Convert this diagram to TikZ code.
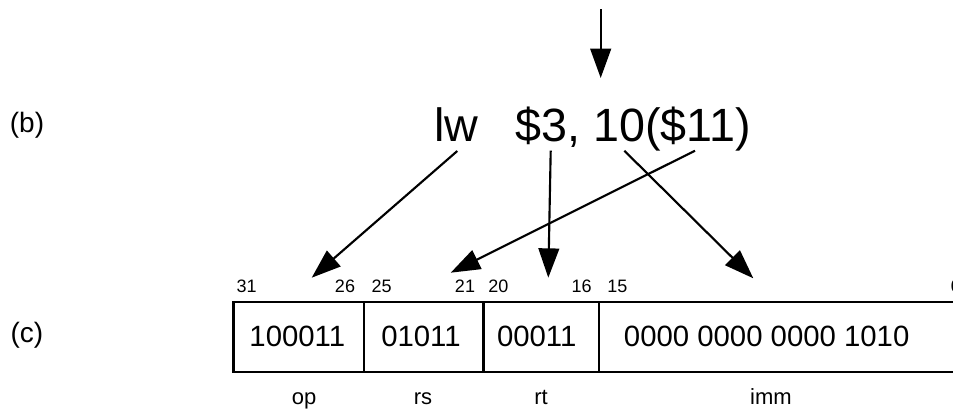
\documentclass[tikz,border=0pt]{standalone}
\usepackage{fontspec}
\setmainfont{Liberation Sans}
\usetikzlibrary{arrows.meta}
\begin{document}
\begin{tikzpicture}[x=0.75pt,y=-0.75pt,
  tag/.style={inner sep=0pt, font=\fontsize{21}{24}\selectfont},
  instr/.style={inner sep=0pt, font=\fontsize{35}{40}\selectfont},
  bitno/.style={inner sep=0pt, font=\fontsize{13.5}{16}\selectfont},
  fieldname/.style={inner sep=0pt, anchor=base, font=\fontsize{16.5}{19}\selectfont},
  bits/.style={inner sep=0pt, font=\fontsize{22}{26}\selectfont},
  cell/.style={draw, line width=1.7pt, inner sep=0pt, minimum height=52pt},
  arr/.style={line width=1.6pt, -{Triangle[length=22pt,width=15.5pt]}}]
\useasboundingbox (0,0) rectangle (953,411);
\clip (0,0) rectangle (953,411);

% row labels
\node[tag] (tb) at (27,125) {(b)};
\node[tag] (tc) at (27,335) {(c)};

% instruction
\coordinate (topin) at (600.7,9);
\coordinate (topout) at (600.7,78);
\draw[arr] (topin) -- (topout);
\node[instr, anchor=base west] (lw) at (434,141) {lw};
\node[instr, anchor=base west] (ops) at (515.5,141) {\$3, 10(\$11)};

% cells
\node[cell, minimum width=98pt]   (op)  at (298.7,337) {};
\node[cell, minimum width=89.5pt] (rs)  at (423.7,337) {};
\node[cell, minimum width=86.5pt] (rt)  at (541,337) {};
\node[cell, minimum width=280pt]  (imm) at (785.4,337) {};

\node[bits] (vop)  at (297.3,336) {100011};
\node[bits] (vrs)  at (421,336) {01011};
\node[bits] (vrt)  at (536.7,336) {00011};
\node[bits] (vimm) at (766.7,336) {0000 0000 0000 1010};

% bit numbers
\node[bitno] (b31) at (246.7,286.7) {31};
\node[bitno] (b26) at (345,286.7) {26};
\node[bitno] (b25) at (381.7,286.7) {25};
\node[bitno] (b21) at (465,286.7) {21};
\node[bitno] (b20) at (498.3,286.7) {20};
\node[bitno] (b16) at (581.7,286.7) {16};
\node[bitno] (b15) at (617.3,286.7) {15};
\node[bitno, anchor=west] (b0) at (950.5,286.7) {0};

% field names
\node[fieldname] (nop)  at (304,404) {op};
\node[fieldname] (nrs)  at (423,404) {rs};
\node[fieldname] (nrt)  at (541,404) {rt};
\node[fieldname] (nimm) at (771,404) {imm};

% arrows from instruction to fields
\coordinate (lwout) at (457.3,151);
\coordinate (rtin) at (550.7,150.7);
\coordinate (immin) at (624.3,150.7);
\coordinate (rsin) at (695,150.7);
\coordinate (optip) at (311.7,277.7);
\coordinate (rstip) at (450.7,272.7);
\coordinate (rttip) at (548.3,277.7);
\coordinate (immtip) at (753.3,278.3);
\draw[arr] (lwout) -- (optip);
\draw[arr] (rsin) -- (rstip);
\draw[arr] (rtin) -- (rttip);
\draw[arr] (immin) -- (immtip);
\end{tikzpicture}
\end{document}
